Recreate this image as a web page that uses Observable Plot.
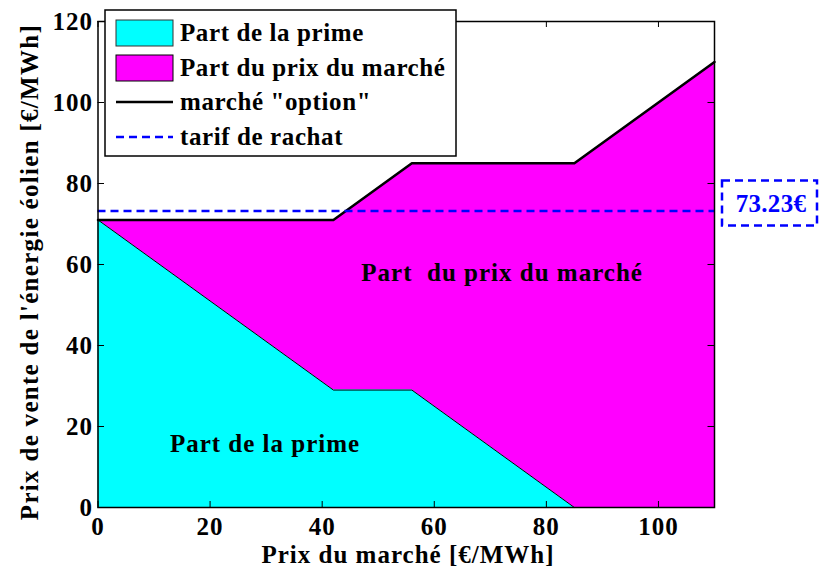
<!DOCTYPE html>
<html><head><meta charset="utf-8">
<script src="https://cdn.jsdelivr.net/npm/d3@7"></script>
<script src="https://cdn.jsdelivr.net/npm/@observablehq/plot@0.6"></script>
<style>
body{margin:0;background:#fff;}
</style>
</head><body><div id="chart"></div>
<script>
// Data
const marketPrice = [0, 42, 56, 85, 110];           // Prix du marché [€/MWh]
const totalPrice  = [71, 71, 85, 85, 110];          // marché "option"
const primePart   = [71, 29, 29, 0, 0];             // Part de la prime
const tarif = 73.23;                                // tarif de rachat
const xTicks = [0, 20, 40, 60, 80, 100];
const yTicks = [0, 20, 40, 60, 80, 100, 120];
const areaLabels = ["Part de la prime", "Part\u00a0 du prix du marché"];
const areaLabelX = [29.8, 72.1];
const areaLabelY = [15.8, 57.8];
const legendLabels = ["Part de la prime", "Part du prix du marché", "marché \"option\"", "tarif de rachat"];

const rows = marketPrice.map((x, i) => ({x, total: totalPrice[i], prime: primePart[i]}));
const labels = areaLabels.map((t, i) => ({t, x: areaLabelX[i], y: areaLabelY[i]}));

const W = 821, H = 572;
const mL = 97.5, mR = 107, mT = 21, mB = 65;
const font = "'Liberation Serif', 'Times New Roman', serif";
const FS = 25;

const chart = Plot.plot({
  width: W, height: H,
  marginLeft: mL, marginRight: mR, marginTop: mT, marginBottom: mB,
  style: {fontFamily: font, fontWeight: "bold", fontSize: FS + "px", color: "black", background: "white", letterSpacing: "1px"},
  x: {domain: [0, 110], ticks: xTicks, label: null},
  y: {domain: [0, 120], ticks: yTicks, label: null},
  marks: [
    Plot.areaY(rows, {x: "x", y1: "prime", y2: "total", fill: "#ff00ff"}),
    Plot.areaY(rows, {x: "x", y1: 0, y2: "prime", fill: "#00ffff"}),
    Plot.line(rows, {x: "x", y: "prime", stroke: "black", strokeWidth: 1}),
    Plot.line(rows, {x: "x", y: "total", stroke: "black", strokeWidth: 2.5}),
    Plot.ruleY([tarif], {stroke: "#0000ff", strokeWidth: 2.5, strokeDasharray: "8,5"}),
    Plot.text(labels, {x: "x", y: "y", text: "t", fontSize: FS, fontWeight: "bold", fill: "black"}),
    Plot.tickX(xTicks, {x: d => d, insetTop: 480, stroke: "black"}),
    Plot.tickX(xTicks, {x: d => d, insetBottom: 480, stroke: "black"}),
    Plot.tickY(yTicks, {y: d => d, insetRight: 610, stroke: "black"}),
    Plot.tickY(yTicks, {y: d => d, insetLeft: 610, stroke: "black"}),
    Plot.axisX({ticks: xTicks, tickSize: 0, tickPadding: 10, fontSize: FS}),
    Plot.axisY({ticks: yTicks, tickSize: 0, tickPadding: 5, fontSize: FS}),
    Plot.frame({stroke: "black", strokeWidth: 1.5})
  ]
});

const svg = d3.select(chart);
const ys = chart.scale("y");
function txt(sel) {
  return sel.attr("font-family", font).attr("font-weight", "bold").attr("font-size", FS);
}
// axis titles
txt(svg.append("text")).attr("x", 408).attr("y", 563).attr("text-anchor", "middle")
  .text("Prix du marché [€/MWh]");
txt(svg.append("text")).attr("transform", "translate(38,272) rotate(-90)").attr("text-anchor", "middle")
  .style("letter-spacing", "1.3px")
  .text("Prix de vente de l'énergie éolien [€/MWh]");

// legend
const lg = svg.append("g");
lg.append("rect").attr("x", 105).attr("y", 10).attr("width", 351).attr("height", 146)
  .attr("fill", "white").attr("stroke", "black").attr("stroke-width", 1.5);
const rowY = [33, 68, 102, 137];
lg.append("rect").attr("x", 116).attr("y", rowY[0] - 13).attr("width", 57).attr("height", 26)
  .attr("fill", "#00ffff").attr("stroke", "#333").attr("stroke-width", 1);
lg.append("rect").attr("x", 116).attr("y", rowY[1] - 13).attr("width", 57).attr("height", 26)
  .attr("fill", "#ff00ff").attr("stroke", "black").attr("stroke-width", 1);
lg.append("line").attr("x1", 116).attr("x2", 173).attr("y1", rowY[2]).attr("y2", rowY[2])
  .attr("stroke", "black").attr("stroke-width", 2.5);
lg.append("line").attr("x1", 116).attr("x2", 173).attr("y1", rowY[3]).attr("y2", rowY[3])
  .attr("stroke", "#0000ff").attr("stroke-width", 2.5).attr("stroke-dasharray", "8,5");
legendLabels.forEach((t, i) => {
  txt(lg.append("text")).attr("x", 180).attr("y", rowY[i]).attr("dy", "0.33em")
    .attr("text-anchor", "start").style("letter-spacing", "0.6px").text(t);
});

// annotation box for tarif
const ty = ys.apply(tarif);
svg.append("rect").attr("x", 722).attr("y", ty - 30).attr("width", 95).attr("height", 45)
  .attr("fill", "none").attr("stroke", "#0000ff").attr("stroke-width", 2.5).attr("stroke-dasharray", "8,5");
txt(svg.append("text")).attr("x", 771).attr("y", ty - 7).attr("dy", "0.33em").attr("text-anchor", "middle")
  .attr("fill", "#0000ff").style("letter-spacing", "0.3px").text(tarif.toFixed(2) + "€");

document.getElementById("chart").appendChild(chart);
</script>
</body></html>
